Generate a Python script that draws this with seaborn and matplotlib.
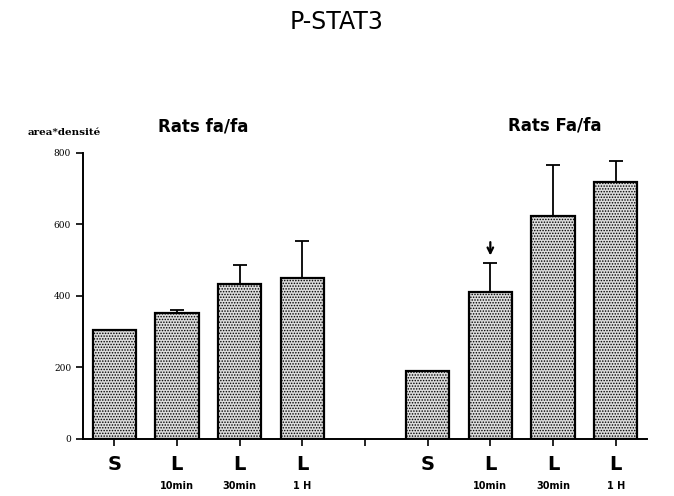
import numpy as np
import pandas as pd
import matplotlib
matplotlib.use("Agg")
import matplotlib.pyplot as plt
import seaborn as sns

sns.set_style("ticks")
plt.rcParams["font.family"] = ["DejaVu Sans"]
plt.rcParams["text.color"] = "black"
plt.rcParams["xtick.color"] = "black"
plt.rcParams["ytick.color"] = "black"
plt.rcParams["axes.edgecolor"] = "black"
plt.rcParams["hatch.color"] = "#555555"
plt.rcParams["hatch.linewidth"] = 0.7

# values
groups = ["fa/fa"] * 4 + ["Fa/fa"] * 4
main_labels = ["S", "L", "L", "L", "S", "L", "L", "L"]
sub_labels = ["", "10min", "30min", "1 H", "", "10min", "30min", "1 H"]
keys = ["fa_S", "fa_L10", "fa_L30", "fa_L1H", "Fa_S", "Fa_L10", "Fa_L30", "Fa_L1H"]
values = [305, 353, 432, 450, 190, 410, 622, 718]
errors = [0, 7, 55, 104, 0, 82, 145, 58]

order = keys[:4] + ["gap"] + keys[4:]
df = pd.DataFrame({"cond": keys, "val": values, "err": errors})

fig = plt.figure(figsize=(6.74, 4.96), dpi=100)
ax = fig.add_axes([0.123, 0.115, 0.837, 0.577])

sns.barplot(data=df, x="cond", y="val", order=order, color="#dcdcdc",
            width=0.69, edgecolor="black", linewidth=1.6, ax=ax)
for p in ax.patches:
    p.set_hatch("......")

pos = [order.index(k) for k in keys]
ax.errorbar(pos, values, yerr=[np.zeros(len(errors)), errors], fmt="none",
            ecolor="black", elinewidth=1.3, capsize=5, capthick=1.3)

ax.set_xlim(-0.5, 8.5)
ax.set_ylim(0, 800)
ax.set_yticks([0, 200, 400, 600, 800])
ax.set_yticklabels(["0", "200", "400", "600", "800"], family="DejaVu Serif", fontsize=6.5)
ax.set_xticks(range(9))
ax.set_xticklabels([""] * 9)
ax.tick_params(axis="both", direction="out", length=5, width=1.2)
ax.set_xlabel("")
ax.set_ylabel("")
for s in ["top", "right"]:
    ax.spines[s].set_visible(False)
for s in ["left", "bottom"]:
    ax.spines[s].set_linewidth(1.4)

trans = matplotlib.transforms.blended_transform_factory(ax.transData, ax.transAxes)
for x, m, sl in zip(pos, main_labels, sub_labels):
    ax.text(x, -0.09, m, transform=trans, ha="center", va="center",
            fontsize=14, fontweight="bold")
    if sl:
        ax.text(x, -0.165, sl, transform=trans, ha="center", va="center",
                fontsize=7, fontweight="bold")

# arrow over the 10min Fa/fa bar
ax.annotate("", xy=(6, 505), xytext=(6, 558),
            arrowprops=dict(arrowstyle="->", color="black", lw=1.6))

fig.text(0.5, 0.955, "P-STAT3", ha="center", va="center", fontsize=17)
fig.text(0.301, 0.744, "Rats fa/fa", ha="center", va="center", fontsize=12, fontweight="bold")
fig.text(0.823, 0.746, "Rats Fa/fa", ha="center", va="center", fontsize=12, fontweight="bold")
fig.text(0.095, 0.732, "area*densité", ha="center", va="center", fontsize=7.5,
         fontweight="bold", family="DejaVu Serif")

fig.savefig("out.png", dpi=100)
